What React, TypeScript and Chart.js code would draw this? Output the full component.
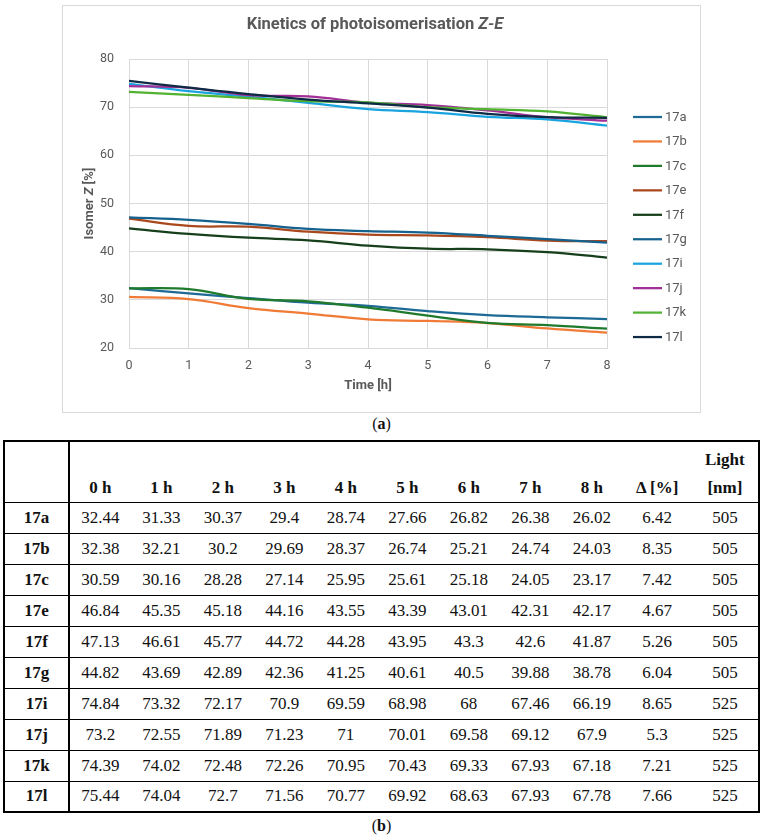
import React, { useEffect, useRef } from "react";
import { Chart, registerables } from "chart.js";

Chart.register(...registerables);

// Irradiation time points (h)
const hours = [0, 1, 2, 3, 4, 5, 6, 7, 8];
const timeHeaders = ["0 h", "1 h", "2 h", "3 h", "4 h", "5 h", "6 h", "7 h", "8 h"];

// Isomer Z content [%] per compound
const row17a = [32.44, 31.33, 30.37, 29.4, 28.74, 27.66, 26.82, 26.38, 26.02];
const row17b = [32.38, 32.21, 30.2, 29.69, 28.37, 26.74, 25.21, 24.74, 24.03];
const row17c = [30.59, 30.16, 28.28, 27.14, 25.95, 25.61, 25.18, 24.05, 23.17];
const row17e = [46.84, 45.35, 45.18, 44.16, 43.55, 43.39, 43.01, 42.31, 42.17];
const row17f = [47.13, 46.61, 45.77, 44.72, 44.28, 43.95, 43.3, 42.6, 41.87];
const row17g = [44.82, 43.69, 42.89, 42.36, 41.25, 40.61, 40.5, 39.88, 38.78];
const row17i = [74.84, 73.32, 72.17, 70.9, 69.59, 68.98, 68, 67.46, 66.19];
const row17j = [73.2, 72.55, 71.89, 71.23, 71, 70.01, 69.58, 69.12, 67.9];
const row17k = [74.39, 74.02, 72.48, 72.26, 70.95, 70.43, 69.33, 67.93, 67.18];
const row17l = [75.44, 74.04, 72.7, 71.56, 70.77, 69.92, 68.63, 67.93, 67.78];

const compounds = ["17a", "17b", "17c", "17e", "17f", "17g", "17i", "17j", "17k", "17l"];
const tableRows = [row17a, row17b, row17c, row17e, row17f, row17g, row17i, row17j, row17k, row17l];
const deltaPct = [6.42, 8.35, 7.42, 4.67, 5.26, 6.04, 8.65, 5.3, 7.21, 7.66];
const lightNm = [505, 505, 505, 505, 505, 505, 525, 525, 525, 525];

// Traces of panel (a) in legend order; the 17b/17c, 17f/17g and 17j/17k
// traces are plotted with each other's table rows.
const seriesLabels = ["17a", "17b", "17c", "17e", "17f", "17g", "17i", "17j", "17k", "17l"];
const seriesValues = [row17a, row17c, row17b, row17e, row17g, row17f, row17i, row17k, row17j, row17l];
const seriesColors = [
  "#1d6a96",
  "#f07b36",
  "#1f7a2c",
  "#a9481c",
  "#173f1b",
  "#16628e",
  "#1aa4df",
  "#a12f96",
  "#52b231",
  "#0f2a45",
];

const yMin = 20;
const yMax = 80;
const yStep = 10;

const GRAY = "#595959";
const FONT = "Roboto";

type Seg = { t: string; f: string };

function drawRich(ctx: CanvasRenderingContext2D, segs: Seg[], cx: number, cy: number) {
  let total = 0;
  for (const s of segs) {
    ctx.font = s.f;
    total += ctx.measureText(s.t).width;
  }
  let x = cx - total / 2;
  ctx.textAlign = "left";
  ctx.textBaseline = "middle";
  for (const s of segs) {
    ctx.font = s.f;
    ctx.fillText(s.t, x, cy);
    x += ctx.measureText(s.t).width;
  }
}

const decorations = {
  id: "decorations",
  afterDraw(chart: any) {
    const { ctx, chartArea: a } = chart;
    const midX = (a.left + a.right) / 2;
    const midY = (a.top + a.bottom) / 2;
    ctx.save();
    ctx.fillStyle = GRAY;

    // chart title
    drawRich(
      ctx,
      [
        { t: "Kinetics of photoisomerisation ", f: `bold 16.5px ${FONT}` },
        { t: "Z-E", f: `italic bold 16.5px ${FONT}` },
      ],
      midX + 7,
      19
    );

    // x axis title
    drawRich(ctx, [{ t: "Time [h]", f: `bold 13px ${FONT}` }], midX, a.bottom + 38);

    // y axis title
    ctx.save();
    ctx.translate(a.left - 39, midY);
    ctx.rotate(-Math.PI / 2);
    drawRich(
      ctx,
      [
        { t: "Isomer ", f: `bold 13px ${FONT}` },
        { t: "Z", f: `italic bold 13px ${FONT}` },
        { t: " [%]", f: `bold 13px ${FONT}` },
      ],
      0,
      0
    );
    ctx.restore();

    // legend
    const x0 = a.right + 26;
    const y0 = a.top + 58;
    const gap = 24.45;
    chart.data.datasets.forEach((ds: any, i: number) => {
      const y = y0 + i * gap;
      ctx.strokeStyle = ds.borderColor;
      ctx.lineWidth = 2.25;
      ctx.beginPath();
      ctx.moveTo(x0, y);
      ctx.lineTo(x0 + 29, y);
      ctx.stroke();
      ctx.fillStyle = GRAY;
      ctx.font = `13px ${FONT}`;
      ctx.textAlign = "left";
      ctx.textBaseline = "middle";
      ctx.fillText(ds.label, x0 + 32, y + 0.5);
    });
    ctx.restore();
  },
};

function KineticsChart() {
  const ref = useRef<HTMLCanvasElement | null>(null);
  useEffect(() => {
    if (!ref.current) return;
    const n = seriesLabels.length;
    const chart = new Chart(ref.current, {
      type: "line",
      data: {
        datasets: seriesLabels.map((label, i) => ({
          label,
          data: hours.map((h, j) => ({ x: h, y: seriesValues[i][j] })),
          borderColor: seriesColors[i],
          backgroundColor: seriesColors[i],
          borderWidth: 2.25,
          pointRadius: 0,
          tension: 0.4,
          fill: false,
          order: n - i,
        })),
      },
      options: {
        animation: false,
        responsive: false,
        layout: { padding: { left: 26, right: 93, top: 53, bottom: 34 } },
        plugins: {
          legend: { display: false },
          title: { display: false },
          tooltip: { enabled: false },
        },
        scales: {
          x: {
            type: "linear",
            min: hours[0],
            max: hours[hours.length - 1],
            ticks: { stepSize: 1, color: GRAY, font: { family: FONT, size: 12.5 }, padding: 10 },
            grid: { color: "#d9d9d9", drawTicks: false, lineWidth: 1 },
            border: { color: "#d9d9d9", width: 1 },
            afterFit: (s: any) => {
              s.height = 30;
            },
          },
          y: {
            min: yMin,
            max: yMax,
            ticks: { stepSize: yStep, color: GRAY, font: { family: FONT, size: 12.5 }, padding: 15 },
            grid: { color: "#d9d9d9", drawTicks: false, lineWidth: 1 },
            border: { color: "#d9d9d9", width: 1 },
            afterFit: (s: any) => {
              s.width = 40;
            },
          },
        },
      },
      plugins: [decorations],
    });
    return () => chart.destroy();
  }, []);
  return <canvas ref={ref} width={637} height={406} style={{ display: "block" }} />;
}

const cellBase: React.CSSProperties = {
  textAlign: "center",
  padding: 0,
  borderTop: "1.5px solid #000",
  fontSize: 17,
};

function DataTable() {
  return (
    <table
      style={{
        position: "absolute",
        left: 3,
        top: 440,
        width: 757,
        borderCollapse: "collapse",
        tableLayout: "fixed",
        fontFamily: "'Liberation Serif', 'Times New Roman', serif",
        color: "#111",
        border: "2px solid #000",
      }}
    >
      <colgroup>
        <col style={{ width: 65 }} />
        {timeHeaders.map((h) => (
          <col key={h} style={{ width: 61.3 }} />
        ))}
        <col style={{ width: 69 }} />
        <col style={{ width: 67 }} />
      </colgroup>
      <thead>
        <tr style={{ height: 61 }}>
          <th style={{ borderRight: "2px solid #000", padding: 0 }} />
          {timeHeaders.map((h) => (
            <th key={h} style={{ verticalAlign: "bottom", fontSize: 17, lineHeight: "28px", padding: 0 }}>
              {h}
            </th>
          ))}
          <th style={{ verticalAlign: "bottom", fontSize: 17, lineHeight: "28px", padding: 0 }}>Δ [%]</th>
          <th style={{ verticalAlign: "bottom", fontSize: 17, lineHeight: "28px", padding: 0 }}>
            Light
            <br />
            [nm]
          </th>
        </tr>
      </thead>
      <tbody>
        {compounds.map((c, i) => (
          <tr key={c} style={{ height: 31 }}>
            <td style={{ ...cellBase, fontWeight: "bold", borderRight: "2px solid #000" }}>{c}</td>
            {tableRows[i].map((v, j) => (
              <td key={j} style={cellBase}>
                {String(v)}
              </td>
            ))}
            <td style={cellBase}>{String(deltaPct[i])}</td>
            <td style={cellBase}>{String(lightNm[i])}</td>
          </tr>
        ))}
      </tbody>
    </table>
  );
}

function Caption({ letter, top }: { letter: string; top: number }) {
  return (
    <div
      style={{
        position: "absolute",
        left: 0,
        width: 763,
        top,
        textAlign: "center",
        fontFamily: "'Liberation Serif', serif",
        fontSize: 16,
        lineHeight: "18px",
        color: "#111",
      }}
    >
      (<b>{letter}</b>)
    </div>
  );
}

export default function App() {
  return (
    <div
      style={{
        position: "absolute",
        left: 0,
        top: 0,
        width: 763,
        height: 836,
        background: "#fff",
        overflow: "hidden",
      }}
    >
      <div
        style={{
          position: "absolute",
          left: 62,
          top: 5,
          width: 637,
          height: 406,
          border: "1px solid #d9d9d9",
          background: "#fff",
        }}
      >
        <KineticsChart />
      </div>
      <Caption letter="a" top={415} />
      <DataTable />
      <Caption letter="b" top={817} />
    </div>
  );
}
